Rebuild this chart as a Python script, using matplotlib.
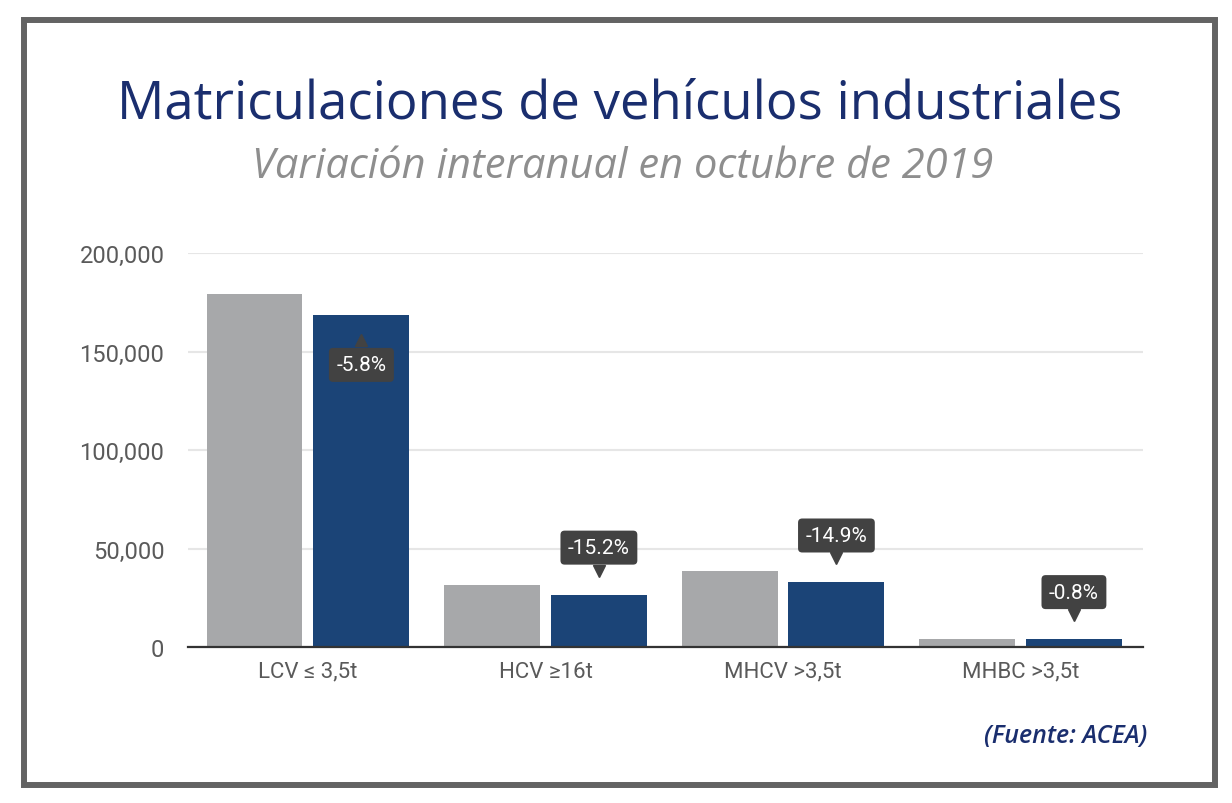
import numpy as np
import matplotlib
matplotlib.use("Agg")
import matplotlib.pyplot as plt
from matplotlib.patches import Rectangle
from matplotlib.ticker import FuncFormatter
import matplotlib.transforms as mtransforms

# Data
categories = ["LCV ≤ 3,5t", "HCV ≥16t", "MHCV >3,5t", "MHBC >3,5t"]
oct_2018 = [179000, 31400, 38500, 4050]
oct_2019 = [168600, 26600, 32760, 4020]
variation = ["-5.8%", "-15.2%", "-14.9%", "-0.8%"]
label_below = [True, False, False, False]

GRAY = "#a7a8aa"
BLUE = "#1b4477"
NAVY = "#1a2e6e"
TIP = "#424242"

plt.rcParams["font.family"] = ["Roboto", "DejaVu Sans"]

fig = plt.figure(figsize=(12.32, 8.04), dpi=100)
ax = fig.add_axes([0.1526, 0.1940, 0.7752, 0.4900])

x = np.arange(len(categories))
w = 0.404
off = 0.225
ax.bar(x - off, oct_2018, width=w, color=GRAY, zorder=2)
ax.bar(x + off, oct_2019, width=w, color=BLUE, zorder=2)

ax.set_xlim(-0.505, 3.516)
ax.set_ylim(0, 200000)
ax.set_yticks([0, 50000, 100000, 150000, 200000])
ax.yaxis.set_major_formatter(FuncFormatter(lambda v, p: f"{int(v):,}"))
ax.set_xticks(x)
ax.set_xticklabels(categories)
ax.tick_params(axis="both", length=0, colors="#5a5a5a")
ax.tick_params(axis="y", pad=17, labelsize=17)
ax.tick_params(axis="x", pad=10, labelsize=16)
ax.grid(axis="y", color="#e6e6e6", linewidth=1.5, zorder=0)
for s in ["top", "right", "left"]:
    ax.spines[s].set_visible(False)
ax.spines["bottom"].set_color("#333333")
ax.spines["bottom"].set_linewidth(1.6)
ax.spines["bottom"].set_zorder(3)

# variation tooltips above / inside the 2019 bars
for xi, val, txt, below in zip(x, oct_2019, variation, label_below):
    dy = -50 if below else 47
    ax.annotate(txt, (xi + off, val), xytext=(0, dy), textcoords="offset pixels",
                ha="center", va="center", color="white", fontsize=15, zorder=5,
                bbox=dict(boxstyle="round,pad=0.36,rounding_size=0.2",
                          fc=TIP, ec="none"))
    tdy = -25 if below else 24
    mk = "^" if below else "v"
    tr = mtransforms.offset_copy(ax.transData, fig=fig, x=0, y=tdy, units="dots")
    ax.plot([xi + off], [val], marker=mk, color=TIP, markersize=8,
            transform=tr, zorder=5, clip_on=False)

fig.text(0.503, 0.853, "Matriculaciones de vehículos industriales",
         ha="center", va="baseline", fontsize=38, color=NAVY,
         family=["Open Sans", "DejaVu Sans"])
fig.text(0.505, 0.7786, "Variación interanual en octubre de 2019",
         ha="center", va="baseline", fontsize=30, color="#8e8e8e",
         style="italic", family=["Open Sans", "DejaVu Sans"])
fig.text(0.931, 0.076, "(Fuente: ACEA)", ha="right", va="baseline",
         fontsize=18, color=NAVY, style="italic", weight="semibold",
         family=["Open Sans", "DejaVu Sans"])

fig.patches.append(Rectangle((0.01948, 0.02239), 0.96672, 0.95151,
                             transform=fig.transFigure, fill=False,
                             ec="#636363", lw=4.3))

fig.savefig("out.png", dpi=100)
